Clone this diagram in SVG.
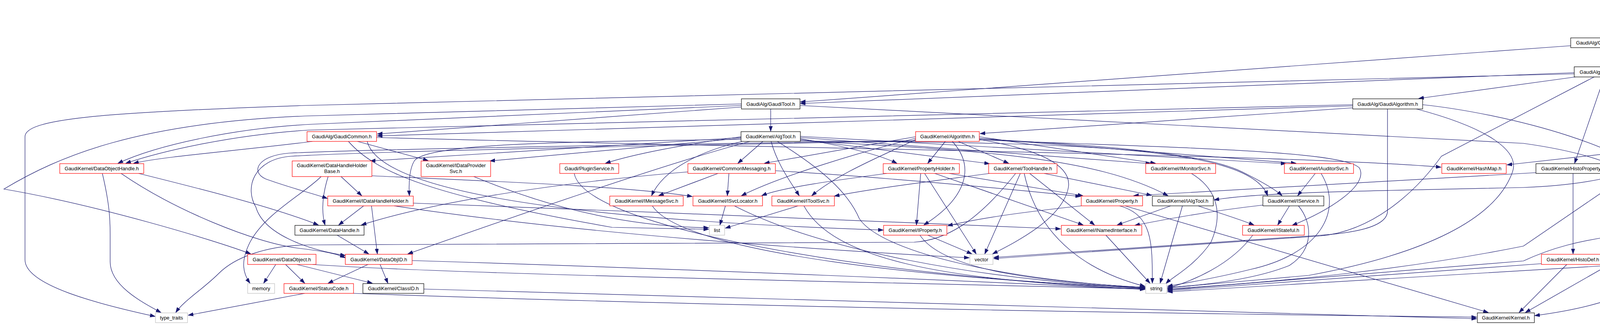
<svg xmlns="http://www.w3.org/2000/svg" width="4686" height="832" viewBox="0 0 4686 832">
<defs>
<style>
text{font-family:"Liberation Sans",Arial,sans-serif;font-size:12.8px;text-anchor:middle;fill:#000}
.e path{fill:none;stroke:#191970;stroke-width:1.2;marker-end:url(#ah)}
.b{fill:#fff;stroke:#000;stroke-width:1.2}
.r{fill:#fff;stroke:#ff0000;stroke-width:1.2}
.g{fill:#fff;stroke:#bfbfbf;stroke-width:1.2}
.top{fill:#bfbfbf;stroke:#000;stroke-width:1.2}
</style>
<marker id="ah" markerUnits="userSpaceOnUse" markerWidth="14" markerHeight="10" refX="13" refY="5" orient="auto"><path d="M0,0.5 L13,5 L0,9.5 z" fill="#191970" stroke="#191970" stroke-width="1"/></marker>
</defs>
<rect width="4686" height="832" fill="#fff"/>
<g id="edges" class="e">
<path d="M4345,47 L4164,96"/>
<path d="M4421,47 C4426,170 4415,275 4335,336"/>
<path d="M4112,122 L4112,170"/>
<path d="M4021,117 L2049,261"/>
<path d="M4030,186 L2049,265"/>
<path d="M4030,189 L780,270 C250,288 64,305 64,350 L64,665 C64,730 250,778 397,810"/>
<path d="M4033,197 L3632,252"/>
<path d="M4124,197 L4188,246"/>
<path d="M4156,197 C4230,212 4290,232 4333,253"/>
<path d="M4194,189 C4330,208 4420,270 4455,336"/>
<path d="M4194,192 C4450,240 4675,300 4675,420 L4675,540 C4675,610 4480,640 4364,651"/>
<path d="M4107,197 L4031,418"/>
<path d="M4081,197 L3690,400 C3640,470 3530,590 3380,604 L2544,662"/>
<path d="M1973,279 L1973,336"/>
<path d="M1898,274 L966,343"/>
<path d="M1898,270 L800,318 C600,328 400,372 302,418"/>
<path d="M1898,266 L780,297 C350,315 150,400 10,484 C250,525 550,615 642,650"/>
<path d="M2048,270 L3900,367 C4100,395 4190,440 4240,501"/>
<path d="M3463,276 L2509,342"/>
<path d="M3463,271 L966,348"/>
<path d="M3463,268 L790,333 C600,345 420,385 322,418"/>
<path d="M3642,268 C3850,290 4220,380 4266,501"/>
<path d="M3552,279 L3552,540 C3552,585 3450,598 3370,603 L2544,659"/>
<path d="M3626,279 C3820,330 3890,390 3872,440 C3830,560 3650,650 3350,705 L2989,737"/>
<path d="M4317,362 L4399,418"/>
<path d="M4280,362 C4240,420 4150,470 3900,480 C3400,490 3200,495 3108,512"/>
<path d="M4292,362 L3900,630 C3600,690 3300,720 2989,740"/>
<path d="M4406,361 L3858,422"/>
<path d="M4452,362 L4428,418"/>
<path d="M4476,362 L4556,418"/>
<path d="M4396,444 L4293,501"/>
<path d="M4411,444 C4390,500 4340,545 4296,576"/>
<path d="M4535,444 L4322,501"/>
<path d="M4557,444 L4303,576"/>
<path d="M4188,598 C4040,612 3960,640 3900,668 L2989,742"/>
<path d="M4252,602 L3905,800"/>
<path d="M3946,675 L2989,744"/>
<path d="M4011,677 L3889,800"/>
<path d="M4182,676 L2989,747"/>
<path d="M4270,677 C4200,760 4050,792 3929,808"/>
<path d="M4027,444 L4027,650"/>
<path d="M3932,442 C3500,465 3100,487 2902,501"/>
<path d="M262,444 C280,520 282,560 282,600 L282,670 C282,730 360,772 412,800"/>
<path d="M355,444 C500,480 700,530 815,576"/>
<path d="M310,444 C450,540 650,620 760,635 C820,642 860,648 884,660"/>
<path d="M800,362 C620,385 420,400 342,418"/>
<path d="M915,362 L1096,411"/>
<path d="M892,362 C960,440 1100,500 1567,582 L1814,587"/>
<path d="M964,352 C2000,380 3300,395 3689,428"/>
<path d="M940,362 C980,520 1700,570 2261,589"/>
<path d="M1953,362 L1889,418"/>
<path d="M1974,362 C1990,420 2020,460 2046,501"/>
<path d="M1990,362 C2100,430 2170,490 2200,560 C2260,650 2600,720 2931,736"/>
<path d="M2049,355 C2150,372 2250,395 2296,418"/>
<path d="M2049,357 L2533,419"/>
<path d="M2049,352 L2946,419"/>
<path d="M2049,349 L3292,419"/>
<path d="M2049,360 C2500,385 2800,400 2990,501"/>
<path d="M2049,361 C2700,365 3200,370 3245,501"/>
<path d="M1900,362 C1800,385 1700,430 1668,501"/>
<path d="M1897,350 C1750,370 1620,395 1550,418"/>
<path d="M1897,352 L948,412"/>
<path d="M1897,354 L1254,412"/>
<path d="M1897,357 C1400,362 1100,370 1062,410 C1048,430 1046,470 1048,501"/>
<path d="M2344,360 C1500,372 950,382 740,392 C660,398 640,440 680,458 C740,480 800,495 838,508"/>
<path d="M2344,361 C1500,376 950,388 745,400 C650,407 625,480 655,530 C675,600 790,640 884,654"/>
<path d="M1920,362 C1700,420 1300,560 1044,650"/>
<path d="M2420,362 L2375,418"/>
<path d="M2438,362 C2500,430 2470,510 2365,576"/>
<path d="M2453,362 L2582,418"/>
<path d="M2505,357 C2650,380 2745,420 2735,480 C2720,560 2600,620 2541,650"/>
<path d="M2507,350 L2958,418"/>
<path d="M2507,354 L3318,418"/>
<path d="M2507,356 C2900,375 3100,400 3180,440 C3230,465 3265,485 3282,501"/>
<path d="M2507,358 C3000,378 3440,385 3480,430 C3505,475 3400,540 3308,577"/>
<path d="M2344,350 L1957,418"/>
<path d="M2344,354 C2200,390 2000,450 1898,501"/>
<path d="M2344,357 C2280,390 2150,440 2078,501"/>
<path d="M2533,444 C2400,462 2250,480 2136,502"/>
<path d="M2673,444 L2948,500"/>
<path d="M2636,444 L2802,576"/>
<path d="M2622,444 C2660,620 2800,700 2931,733"/>
<path d="M2612,444 L2521,650"/>
<path d="M2600,444 C2500,570 2420,615 2340,620 L790,627 C680,628 600,660 560,700 C520,740 470,770 450,800"/>
<path d="M2357,444 L2346,576"/>
<path d="M2367,444 L2499,650"/>
<path d="M2393,444 L2773,576"/>
<path d="M2430,444 L2772,501"/>
<path d="M2270,444 C2150,460 2000,480 1950,501"/>
<path d="M1838,444 L1686,501"/>
<path d="M1866,444 L1862,501"/>
<path d="M1761,440 C1400,470 1100,520 925,576"/>
<path d="M1985,437 C2200,450 2500,475 2766,503"/>
<path d="M1670,527 C1750,650 2400,715 2931,737"/>
<path d="M1857,527 L1843,576"/>
<path d="M1880,527 C2100,640 2500,715 2931,738"/>
<path d="M2043,527 L1857,584"/>
<path d="M2058,527 C2130,660 2400,720 2931,739"/>
<path d="M1470,444 C1500,600 2400,725 2931,735"/>
<path d="M873,452 L926,501"/>
<path d="M840,452 C825,500 822,540 832,576"/>
<path d="M822,452 C780,495 680,545 640,620 C615,670 622,700 640,725"/>
<path d="M952,450 C1200,462 1600,475 1772,503"/>
<path d="M1213,452 C1400,530 1600,580 1814,583"/>
<path d="M931,527 L867,576"/>
<path d="M951,527 L966,650"/>
<path d="M1058,520 C1600,540 2300,568 2715,586"/>
<path d="M1009,527 C1500,600 2100,640 2481,660"/>
<path d="M863,602 L944,650"/>
<path d="M706,677 L675,725"/>
<path d="M731,677 L780,725"/>
<path d="M760,677 L953,725"/>
<path d="M800,677 C1200,705 2400,725 2931,740"/>
<path d="M942,677 L840,725"/>
<path d="M973,677 L993,725"/>
<path d="M1055,667 C1800,690 2500,720 2931,741"/>
<path d="M780,751 L482,807"/>
<path d="M905,751 C2000,790 3200,805 3780,812"/>
<path d="M1085,740 C2200,770 3300,800 3780,816"/>
<path d="M3050,444 C3110,480 3135,540 3100,620 C3060,680 3000,710 2985,726"/>
<path d="M3367,444 L3322,501"/>
<path d="M3382,444 C3440,540 3380,650 3200,690 C3100,715 3030,725 2989,733"/>
<path d="M3301,527 L3271,576"/>
<path d="M3233,525 C3100,540 2990,560 2905,577"/>
<path d="M3324,527 C3360,570 3365,640 3300,680 C3200,720 3050,732 2989,736"/>
<path d="M3207,602 C3150,680 3050,720 2989,738"/>
<path d="M2997,527 L2860,576"/>
<path d="M3027,527 L2970,725"/>
<path d="M3067,527 C3120,545 3170,560 3210,576"/>
<path d="M2831,602 L2944,725"/>
<path d="M2768,527 C2600,545 2500,560 2426,578"/>
<path d="M2866,527 C2950,550 2950,620 2950,725"/>
<path d="M2880,527 L3810,800"/>
<path d="M2375,602 L2488,650"/>
<path d="M2355,602 C2420,700 2700,722 2931,736"/>
</g>
<g id="n_HistoTool"><rect class="top" x="4337" y="6" width="173" height="41"/><text x="4423.5" y="23">GaudiAlg/src/components</text><text x="4423.5" y="37.5">/HistoTool.h</text></g>
<g id="n_GaudiHistoTool"><rect class="b" x="4021" y="97" width="181" height="25"/><text x="4111.5" y="114">GaudiAlg/GaudiHistoTool.h</text></g>
<g id="n_GaudiHistos"><rect class="b" x="4030" y="171" width="164" height="26"/><text x="4112" y="188.5">GaudiAlg/GaudiHistos.h</text></g>
<g id="n_GaudiTool"><rect class="b" x="1898" y="253" width="150" height="26"/><text x="1973" y="270.5">GaudiAlg/GaudiTool.h</text></g>
<g id="n_GaudiAlgorithm"><rect class="b" x="3463" y="253" width="179" height="26"/><text x="3552.5" y="270.5">GaudiAlg/GaudiAlgorithm.h</text></g>
<g id="n_boost"><rect class="g" x="4150" y="247" width="147" height="39"/><text x="4223.5" y="263">boost/algorithm/string</text><text x="4223.5" y="277.5">/replace.hpp</text></g>
<g id="n_limits"><rect class="g" x="4321" y="254" width="54" height="25"/><text x="4348" y="271">limits</text></g>
<g id="n_GaudiCommon"><rect class="r" x="786" y="337" width="178" height="25"/><text x="875" y="354">GaudiAlg/GaudiCommon.h</text></g>
<g id="n_AlgTool"><rect class="b" x="1897" y="337" width="152" height="25"/><text x="1973" y="354">GaudiKernel/AlgTool.h</text></g>
<g id="n_Algorithm"><rect class="r" x="2344" y="337" width="163" height="25"/><text x="2425.5" y="354">GaudiKernel/Algorithm.h</text></g>
<g id="n_IHistoTool"><rect class="b" x="4230" y="337" width="152" height="25"/><text x="4306" y="354">GaudiAlg/IHistoTool.h</text></g>
<g id="n_Maps"><rect class="b" x="4406" y="337" width="124" height="25"/><text x="4468" y="354">GaudiAlg/Maps.h</text></g>
<g id="n_DataObjectHandle"><rect class="r" x="153" y="419" width="215" height="25"/><text x="260.5" y="436">GaudiKernel/DataObjectHandle.h</text></g>
<g id="n_DataHandleHolderBase"><rect class="r" x="748" y="412" width="204" height="40"/><text x="850" y="428">GaudiKernel/DataHandleHolder</text><text x="850" y="443">Base.h</text></g>
<g id="n_IDataProviderSvc"><rect class="r" x="1078" y="412" width="178" height="40"/><text x="1167" y="428">GaudiKernel/IDataProvider</text><text x="1167" y="443">Svc.h</text></g>
<g id="n_PluginService"><rect class="r" x="1433" y="419" width="151" height="25"/><text x="1508.5" y="436">Gaudi/PluginService.h</text></g>
<g id="n_CommonMessaging"><rect class="r" x="1761" y="419" width="224" height="25"/><text x="1873" y="436">GaudiKernel/CommonMessaging.h</text></g>
<g id="n_PropertyHolder"><rect class="r" x="2261" y="419" width="195" height="25"/><text x="2358.5" y="436">GaudiKernel/PropertyHolder.h</text></g>
<g id="n_ToolHandle"><rect class="r" x="2531" y="419" width="175" height="25"/><text x="2618.5" y="436">GaudiKernel/ToolHandle.h</text></g>
<g id="n_IMonitorSvc"><rect class="r" x="2933" y="419" width="179" height="25"/><text x="3022.5" y="436">GaudiKernel/IMonitorSvc.h</text></g>
<g id="n_IAuditorSvc"><rect class="r" x="3288" y="419" width="177" height="25"/><text x="3376.5" y="436">GaudiKernel/IAuditorSvc.h</text></g>
<g id="n_HashMap"><rect class="r" x="3691" y="419" width="165" height="25"/><text x="3773.5" y="436">GaudiKernel/HashMap.h</text></g>
<g id="n_HistoProperty"><rect class="b" x="3932" y="419" width="189" height="25"/><text x="4026.5" y="436">GaudiKernel/HistoProperty.h</text></g>
<g id="n_HistoID"><rect class="b" x="4350" y="419" width="135" height="25"/><text x="4417.5" y="436">GaudiAlg/HistoID.h</text></g>
<g id="n_TupleID"><rect class="b" x="4510" y="419" width="137" height="25"/><text x="4578.5" y="436">GaudiAlg/TupleID.h</text></g>
<g id="n_IDataHandleHolder"><rect class="r" x="839" y="502" width="219" height="25"/><text x="948.5" y="519">GaudiKernel/IDataHandleHolder.h</text></g>
<g id="n_IMessageSvc"><rect class="r" x="1561" y="502" width="188" height="25"/><text x="1655" y="519">GaudiKernel/IMessageSvc.h</text></g>
<g id="n_ISvcLocator"><rect class="r" x="1774" y="502" width="178" height="25"/><text x="1863" y="519">GaudiKernel/ISvcLocator.h</text></g>
<g id="n_IToolSvc"><rect class="r" x="1976" y="502" width="160" height="25"/><text x="2056" y="519">GaudiKernel/IToolSvc.h</text></g>
<g id="n_Property"><rect class="r" x="2768" y="502" width="157" height="25"/><text x="2846.5" y="519">GaudiKernel/Property.h</text></g>
<g id="n_IAlgTool"><rect class="b" x="2950" y="502" width="156" height="25"/><text x="3028" y="519">GaudiKernel/IAlgTool.h</text></g>
<g id="n_IService"><rect class="b" x="3233" y="502" width="156" height="25"/><text x="3311" y="519">GaudiKernel/IService.h</text></g>
<g id="n_GaudiAlg"><rect class="b" x="4201" y="502" width="144" height="25"/><text x="4273" y="519">GaudiAlg/GaudiAlg.h</text></g>
<g id="n_DataHandle"><rect class="b" x="755" y="577" width="177" height="25"/><text x="843.5" y="594">GaudiKernel/DataHandle.h</text></g>
<g id="n_list"><rect class="g" x="1816" y="577" width="39" height="25"/><text x="1835.5" y="594">list</text></g>
<g id="n_IProperty"><rect class="r" x="2262" y="577" width="162" height="25"/><text x="2343" y="594">GaudiKernel/IProperty.h</text></g>
<g id="n_INamedInterface"><rect class="r" x="2717" y="577" width="206" height="25"/><text x="2820" y="594">GaudiKernel/INamedInterface.h</text></g>
<g id="n_IStateful"><rect class="r" x="3181" y="577" width="158" height="25"/><text x="3260" y="594">GaudiKernel/IStateful.h</text></g>
<g id="n_GaudiHistoID"><rect class="r" x="4188" y="577" width="170" height="25"/><text x="4273" y="594">GaudiAlg/GaudiHistoID.h</text></g>
<g id="n_DataObject"><rect class="r" x="634" y="651" width="175" height="26"/><text x="721.5" y="668.5">GaudiKernel/DataObject.h</text></g>
<g id="n_DataObjID"><rect class="r" x="884" y="651" width="171" height="26"/><text x="969.5" y="668.5">GaudiKernel/DataObjID.h</text></g>
<g id="n_vector"><rect class="g" x="2483" y="651" width="59" height="26"/><text x="2512.5" y="668.5">vector</text></g>
<g id="n_HistoDef"><rect class="r" x="3946" y="651" width="161" height="26"/><text x="4026.5" y="668.5">GaudiKernel/HistoDef.h</text></g>
<g id="n_HistoTableFormat"><rect class="b" x="4182" y="651" width="204" height="26"/><text x="4284" y="668.5">GaudiUtils/HistoTableFormat.h</text></g>
<g id="n_memory"><rect class="g" x="634" y="726" width="69" height="25"/><text x="668.5" y="743">memory</text></g>
<g id="n_StatusCode"><rect class="r" x="727" y="726" width="178" height="25"/><text x="816" y="743">GaudiKernel/StatusCode.h</text></g>
<g id="n_ClassID"><rect class="b" x="929" y="726" width="156" height="25"/><text x="1007" y="743">GaudiKernel/ClassID.h</text></g>
<g id="n_string"><rect class="g" x="2933" y="726" width="54" height="25"/><text x="2960" y="743">string</text></g>
<g id="n_type_traits"><rect class="g" x="398" y="801" width="82" height="25"/><text x="439" y="818">type_traits</text></g>
<g id="n_Kernel"><rect class="b" x="3782" y="801" width="146" height="25"/><text x="3855" y="818">GaudiKernel/Kernel.h</text></g>
</svg>
